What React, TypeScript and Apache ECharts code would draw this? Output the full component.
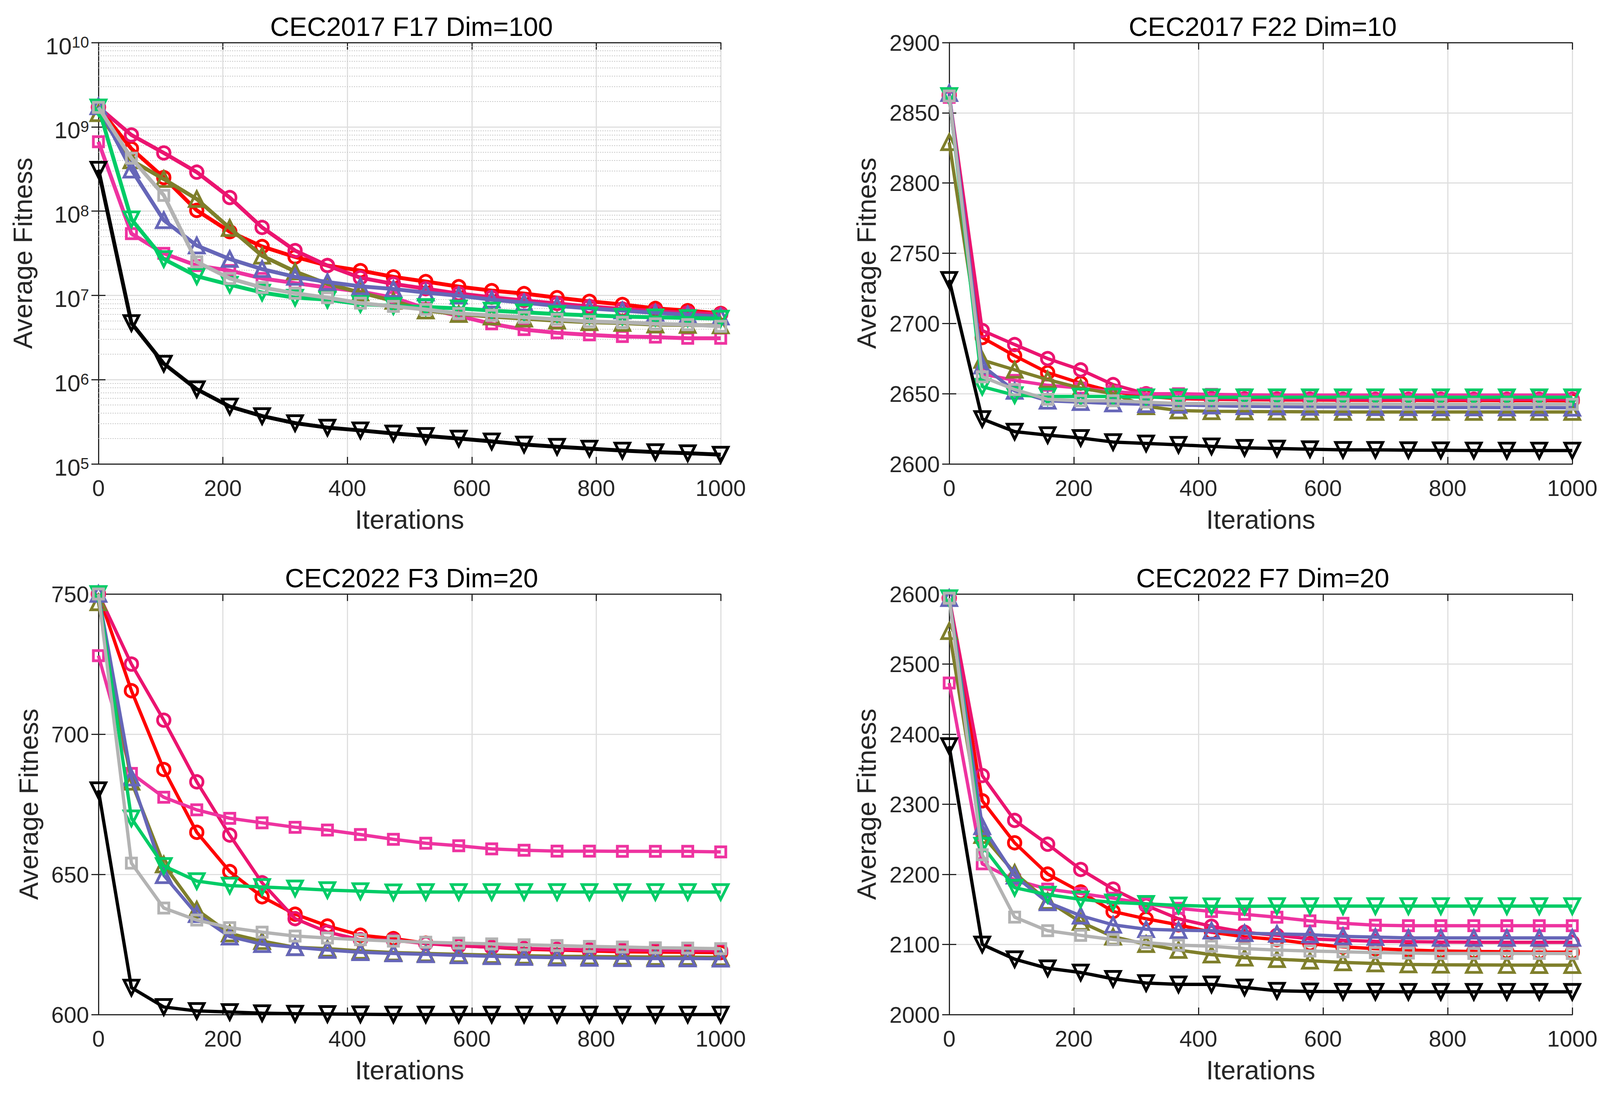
import { useEffect, useRef } from "react";
import * as echarts from "echarts";

// iteration at which each marker is drawn
const iterations = [0, 53, 105, 158, 211, 263, 316, 368, 421, 474, 526, 579, 632, 684, 737, 789, 842, 895, 947, 1000];

// CEC2017 F17 Dim=100 (log scale)
const f17Red = [1.7e9, 5.5e8, 2.5e8, 1.02e8, 5.7e7, 3.8e7, 2.86e7, 2.26e7, 1.97e7, 1.66e7, 1.46e7, 1.27e7, 1.14e7, 1.05e7, 9.4e6, 8.5e6, 7.8e6, 7.0e6, 6.6e6, 6.1e6];
const f17DeepPink = [1.72e9, 8.0e8, 4.9e8, 2.9e8, 1.45e8, 6.4e7, 3.4e7, 2.26e7, 1.62e7, 1.37e7, 1.2e7, 1.05e7, 9.5e6, 8.7e6, 8.0e6, 7.4e6, 6.9e6, 6.5e6, 6.2e6, 6.0e6];
const f17Pink = [6.65e8, 5.4e7, 3.15e7, 2.26e7, 1.97e7, 1.59e7, 1.4e7, 1.24e7, 1.11e7, 9.4e6, 7.0e6, 5.7e6, 4.6e6, 3.93e6, 3.6e6, 3.4e6, 3.25e6, 3.2e6, 3.1e6, 3.1e6];
const f17Olive = [1.45e9, 4.0e8, 2.4e8, 1.39e8, 6.3e7, 2.95e7, 1.92e7, 1.37e7, 1.08e7, 8.6e6, 6.6e6, 6.0e6, 5.6e6, 5.3e6, 5.0e6, 4.8e6, 4.7e6, 4.5e6, 4.45e6, 4.4e6];
const f17Blue = [1.75e9, 3.1e8, 7.8e7, 3.9e7, 2.7e7, 2.05e7, 1.66e7, 1.44e7, 1.28e7, 1.19e7, 1.08e7, 9.9e6, 8.9e6, 8.2e6, 7.5e6, 7.0e6, 6.6e6, 6.2e6, 5.9e6, 5.6e6];
const f17Green = [1.7e9, 8.0e7, 2.7e7, 1.69e7, 1.34e7, 1.08e7, 9.4e6, 8.9e6, 7.9e6, 7.5e6, 7.3e6, 7.0e6, 6.6e6, 6.3e6, 6.0e6, 5.8e6, 5.6e6, 5.5e6, 5.4e6, 5.3e6];
const f17Gray = [1.7e9, 4.25e8, 1.54e8, 2.5e7, 1.59e7, 1.24e7, 1.06e7, 9.4e6, 8.1e6, 7.4e6, 6.8e6, 6.1e6, 5.8e6, 5.5e6, 5.2e6, 4.9e6, 4.8e6, 4.6e6, 4.5e6, 4.3e6];
const f17Black = [3.1e8, 4.7e6, 1.55e6, 7.7e5, 4.8e5, 3.7e5, 3.05e5, 2.7e5, 2.5e5, 2.3e5, 2.15e5, 2.0e5, 1.85e5, 1.7e5, 1.6e5, 1.52e5, 1.44e5, 1.38e5, 1.34e5, 1.29e5];

// CEC2017 F22 Dim=10
const f22Red = [2862, 2690, 2677, 2665, 2657.5, 2651.5, 2648, 2646.5, 2646, 2645.8, 2645.6, 2645.5, 2645.4, 2645.3, 2645.3, 2645.2, 2645.2, 2645.1, 2645.1, 2645];
const f22DeepPink = [2863, 2695, 2685, 2675, 2667, 2656.5, 2650, 2647, 2646.5, 2646.3, 2646.2, 2646.1, 2646, 2646, 2646, 2646, 2646, 2646, 2646, 2646];
const f22Pink = [2861, 2664, 2659.5, 2656, 2654, 2651.5, 2650, 2650, 2649.5, 2649.2, 2649, 2649, 2649, 2649, 2649, 2649, 2649, 2649, 2649, 2649];
const f22Olive = [2829, 2674, 2667, 2660, 2654, 2650, 2641, 2638, 2637.5, 2637.3, 2637.2, 2637.1, 2637, 2637, 2637, 2637, 2637, 2637, 2637, 2637];
const f22Blue = [2864, 2670, 2652, 2645, 2644, 2643, 2642.5, 2642, 2641.5, 2641, 2640.8, 2640.6, 2640.5, 2640.4, 2640.3, 2640.2, 2640.2, 2640.1, 2640.1, 2640];
const f22Green = [2862, 2655, 2649, 2648, 2648, 2648, 2647.5, 2647.5, 2647.5, 2647.5, 2647.5, 2647.5, 2647.5, 2647.5, 2647.5, 2647.5, 2647.5, 2647.5, 2647.5, 2647.5];
const f22Gray = [2862, 2662, 2653, 2646, 2645, 2645, 2644, 2643, 2643, 2643, 2642.8, 2642.7, 2642.6, 2642.6, 2642.5, 2642.5, 2642.5, 2642.5, 2642.5, 2642.5];
const f22Black = [2731, 2632, 2623, 2620.5, 2618.5, 2615.6, 2614.6, 2613.6, 2612.5, 2611.5, 2611, 2610.5, 2610, 2610, 2609.8, 2609.7, 2609.6, 2609.5, 2609.5, 2609.5];

// CEC2022 F3 Dim=20
const f3Red = [750, 715.5, 687.4, 665, 651, 642, 635.8, 631.6, 628.3, 627.1, 625.5, 624.6, 624, 623.3, 623, 622.7, 622.4, 622.3, 622.2, 622.1];
const f3DeepPink = [750, 725, 705, 683, 664, 647, 634.2, 629.4, 626.7, 626.5, 625.3, 624.5, 624, 623.6, 623.3, 623.1, 623, 622.9, 622.8, 622.8];
const f3Pink = [728, 686, 677.5, 673, 670, 668.4, 666.8, 665.8, 664.2, 662.5, 661.1, 660.2, 659.1, 658.6, 658.3, 658.3, 658.2, 658.2, 658.2, 658];
const f3Olive = [747, 683, 653.5, 637.4, 628.9, 626.2, 624, 623.5, 622.7, 622.1, 621.8, 621.5, 621.2, 621, 620.8, 620.7, 620.6, 620.5, 620.5, 620.4];
const f3Blue = [750, 684.5, 649.7, 635.8, 627.8, 625.1, 624, 623, 622.2, 621.8, 621.5, 621.1, 620.8, 620.5, 620.3, 620.2, 620.1, 620, 620, 619.9];
const f3Green = [750, 670, 653, 647.6, 646, 645.5, 645, 644.4, 644, 643.6, 643.7, 643.7, 643.7, 643.7, 643.7, 643.7, 643.7, 643.7, 643.7, 643.7];
const f3Gray = [750, 654, 638, 633.7, 631, 629.4, 628, 627.3, 626.7, 626.2, 625.8, 625.5, 625.2, 624.9, 624.6, 624.3, 624.1, 623.8, 623.7, 623.5];
const f3Black = [680, 609.6, 602.7, 601.3, 600.9, 600.5, 600.3, 600.2, 600.1, 600, 600, 600, 600, 600, 600, 600, 600, 600, 600, 600];

// CEC2022 F7 Dim=20
const f7Red = [2594, 2305, 2245, 2200.4, 2175, 2147, 2136.6, 2128, 2117.4, 2111, 2107, 2101, 2096.5, 2094, 2092, 2090.7, 2090, 2089.5, 2089, 2089];
const f7DeepPink = [2594, 2341, 2277, 2243, 2207, 2179, 2155.7, 2136.6, 2126, 2117.4, 2113, 2108, 2106, 2104.5, 2104, 2103.5, 2103.2, 2103, 2103, 2103];
const f7Pink = [2473, 2215, 2192, 2179, 2172.7, 2166, 2158, 2151.5, 2147, 2143, 2138.8, 2133.7, 2130.2, 2127.4, 2126.7, 2126.7, 2126.7, 2126.7, 2126.7, 2126.7];
const f7Olive = [2547, 2256, 2202, 2162, 2132, 2111, 2100.4, 2092, 2085.5, 2081, 2079, 2076.7, 2074.4, 2072.8, 2071.4, 2071, 2070.8, 2070.6, 2070.5, 2070.5];
const f7Blue = [2594, 2268.5, 2198, 2160, 2141, 2128, 2121.7, 2120.4, 2119.6, 2116, 2115, 2114, 2111.6, 2110.5, 2109.3, 2109.3, 2109.3, 2109.3, 2109.3, 2109.3];
const f7Green = [2594, 2241, 2181, 2171, 2164.3, 2160, 2158, 2155.7, 2154.5, 2154.5, 2154.7, 2154.7, 2154.7, 2154.7, 2154.7, 2154.7, 2154.7, 2154.7, 2154.7, 2154.7];
const f7Gray = [2594, 2228, 2139, 2119.6, 2113, 2107, 2102.6, 2099, 2097.5, 2094, 2092, 2090.7, 2089.5, 2088.4, 2087.7, 2087.2, 2087.2, 2087.2, 2087.2, 2087];
const f7Black = [2383, 2100, 2079, 2066, 2060, 2051, 2045, 2043, 2043, 2038.7, 2034, 2033, 2032.6, 2032.6, 2032.5, 2032.5, 2032.5, 2032.5, 2032.5, 2032.5];

// minor grid of the log panel: 2..9 x each decade
const logDecades = [1e5, 1e6, 1e7, 1e8, 1e9];
const logMinorSteps = [2, 3, 4, 5, 6, 7, 8, 9];

const FONT = "'Liberation Sans', Arial, Helvetica, sans-serif";
const AXIS_COLOR = "#262626";
const GRID_COLOR = "#dfdfdf";

// marker styles in drawing order
const markers = [
  { name: "Red", color: "#ff0000", symbol: "circle", size: 32, rotate: 0 },
  { name: "Deep pink", color: "#eb1470", symbol: "circle", size: 32, rotate: 0 },
  { name: "Pink", color: "#ee33a0", symbol: "rect", size: 26, rotate: 0 },
  { name: "Olive", color: "#7f7f2b", symbol: "triangle", size: 38, rotate: 0 },
  { name: "Blue", color: "#6666b8", symbol: "triangle", size: 38, rotate: 0 },
  { name: "Green", color: "#00cc66", symbol: "triangle", size: 38, rotate: 180 },
  { name: "Gray", color: "#b3b3b3", symbol: "rect", size: 26, rotate: 0 },
  { name: "Black", color: "#000000", symbol: "triangle", size: 38, rotate: 180 },
];

const panels = [
  {
    title: "CEC2017 F17 Dim=100",
    log: true, min: 1e5, max: 1e10, interval: 0,
    values: [f17Red, f17DeepPink, f17Pink, f17Olive, f17Blue, f17Green, f17Gray, f17Black],
    left: 252, top: 109, width: 1593, height: 1079, nameGap: 160, lineWidth: 10,
  },
  {
    title: "CEC2017 F22 Dim=10",
    log: false, min: 2600, max: 2900, interval: 50,
    values: [f22Red, f22DeepPink, f22Pink, f22Olive, f22Blue, f22Green, f22Gray, f22Black],
    left: 2430, top: 109, width: 1595, height: 1079, nameGap: 178, lineWidth: 8.5,
  },
  {
    title: "CEC2022 F3 Dim=20",
    log: false, min: 600, max: 750, interval: 50,
    values: [f3Red, f3DeepPink, f3Pink, f3Olive, f3Blue, f3Green, f3Gray, f3Black],
    left: 252, top: 1521, width: 1593, height: 1077, nameGap: 145, lineWidth: 8.5,
  },
  {
    title: "CEC2022 F7 Dim=20",
    log: false, min: 2000, max: 2600, interval: 100,
    values: [f7Red, f7DeepPink, f7Pink, f7Olive, f7Blue, f7Green, f7Gray, f7Black],
    left: 2430, top: 1521, width: 1595, height: 1077, nameGap: 178, lineWidth: 8.5,
  },
];

function buildOption() {
  const grid: any[] = [];
  const xAxis: any[] = [];
  const yAxis: any[] = [];
  const series: any[] = [];
  const title: any[] = [];

  const axisLine = { show: true, lineStyle: { color: AXIS_COLOR, width: 3 } };
  const axisTick = { show: true, inside: true, length: 18, lineStyle: { color: AXIS_COLOR, width: 3 } };
  const splitLine = { show: true, lineStyle: { color: GRID_COLOR, width: 3 } };
  const tickFont = { fontFamily: FONT, fontSize: 58, color: AXIS_COLOR };
  const plain = (v: number) => String(v);

  panels.forEach((p, pi) => {
    grid.push({ left: p.left, top: p.top, width: p.width, height: p.height, containLabel: false });
    title.push({
      text: p.title,
      left: p.left + p.width / 2,
      top: p.top - 80,
      textAlign: "center",
      textStyle: { fontFamily: FONT, fontSize: 68, fontWeight: "normal", color: "#000" },
    });

    const xBase = { type: "value", gridIndex: pi, min: 0, max: 1000, interval: 200 };
    xAxis.push({
      ...xBase,
      position: "bottom",
      name: "Iterations",
      nameLocation: "middle",
      nameGap: 108,
      nameTextStyle: { fontFamily: FONT, fontSize: 68, color: AXIS_COLOR },
      axisLine,
      axisTick,
      splitLine,
      axisLabel: { ...tickFont, margin: 32, hideOverlap: false, formatter: plain },
    });
    xAxis.push({
      ...xBase,
      position: "top",
      axisLine,
      axisTick,
      splitLine: { show: false },
      axisLabel: { show: false },
    });

    const yBase: any = p.log
      ? { type: "log", logBase: 10, gridIndex: pi, min: p.min, max: p.max, splitNumber: 5 }
      : { type: "value", gridIndex: pi, min: p.min, max: p.max, interval: p.interval };
    const yLabel: any = p.log
      ? {
          margin: 24,
          padding: [18, 0, 0, 0],
          formatter: (v: number) => `{b|10}{s|${Math.round(Math.log10(v))}}`,
          rich: {
            b: { fontFamily: FONT, fontSize: 60, lineHeight: 60, color: AXIS_COLOR, verticalAlign: "bottom" },
            s: { fontFamily: FONT, fontSize: 40, lineHeight: 40, color: AXIS_COLOR, verticalAlign: "top", padding: [0, 0, 30, 0] },
          },
        }
      : { ...tickFont, margin: 24, formatter: plain };
    yAxis.push({
      ...yBase,
      position: "left",
      name: "Average Fitness",
      nameLocation: "middle",
      nameGap: p.nameGap,
      nameTextStyle: { fontFamily: FONT, fontSize: 68, color: AXIS_COLOR },
      axisLine,
      axisTick,
      splitLine,
      axisLabel: { ...yLabel, hideOverlap: false },
    });
    yAxis.push({
      ...yBase,
      position: "right",
      axisLine,
      axisTick,
      splitLine: { show: false },
      axisLabel: { show: false },
    });

    p.values.forEach((vals, si) => {
      const m = markers[si];
      const s: any = {
        name: m.name,
        type: "line",
        xAxisIndex: pi * 2,
        yAxisIndex: pi * 2,
        data: iterations.map((it, k) => [it, vals[k]]),
        symbol: m.symbol,
        symbolSize: m.size,
        symbolRotate: m.rotate,
        showAllSymbol: true,
        clip: false,
        lineStyle: { color: m.color, width: p.lineWidth },
        itemStyle: { color: "rgba(255,255,255,0)", borderColor: m.color, borderWidth: 7 },
        emphasis: { disabled: true },
        z: 3 + si,
      };
      if (p.log && si === 0) {
        const minor: number[] = [];
        logDecades.forEach((d) => logMinorSteps.forEach((k) => minor.push(d * k)));
        s.markLine = {
          silent: true,
          symbol: ["none", "none"],
          z: 1,
          label: { show: false },
          lineStyle: { color: "#c9c9c9", type: [3, 3], width: 2 },
          emphasis: { disabled: true },
          data: minor.map((v) => ({ yAxis: v })),
        };
      }
      series.push(s);
    });
  });

  return {
    animation: false,
    backgroundColor: "#ffffff",
    title,
    grid,
    xAxis,
    yAxis,
    series,
  };
}

export default function App() {
  const chartRef = useRef<HTMLDivElement>(null);

  useEffect(() => {
    if (!chartRef.current) return;
    const chart = echarts.init(chartRef.current, null, { renderer: "svg" });
    chart.setOption(buildOption() as any);
    return () => {
      chart.dispose();
    };
  }, []);

  return (
    <div
      ref={chartRef}
      style={{ position: "absolute", left: 0, top: 0, width: 4102, height: 2804, background: "#fff" }}
    />
  );
}
